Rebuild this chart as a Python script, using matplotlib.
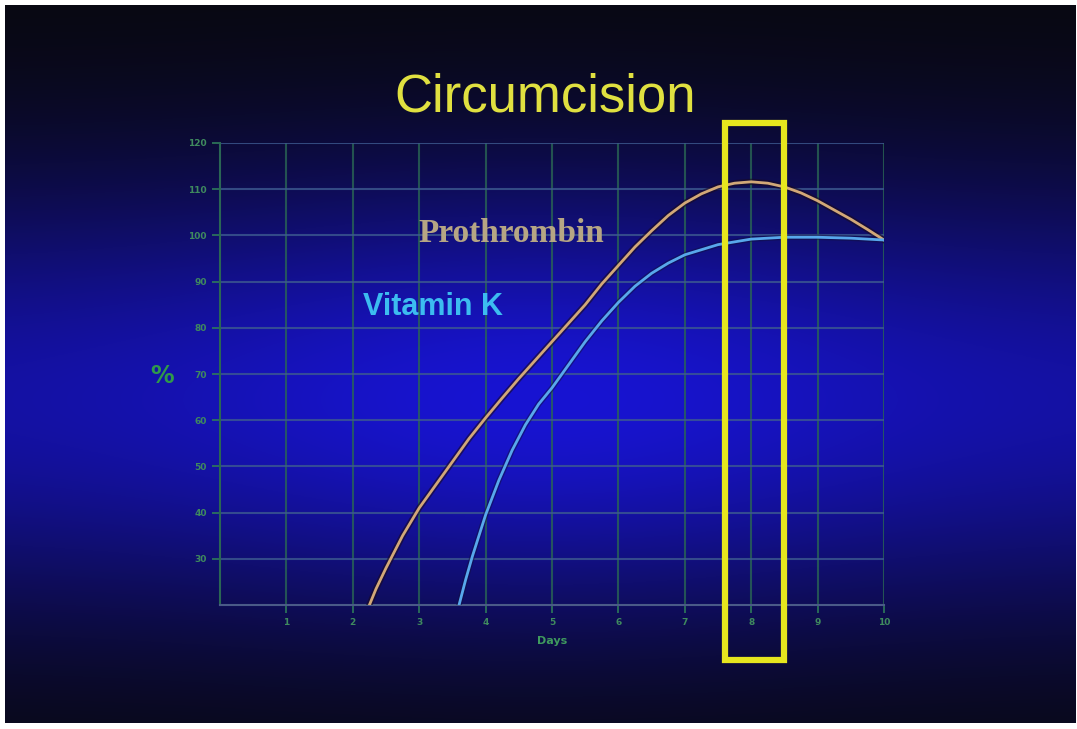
import numpy as np
import matplotlib
matplotlib.use("Agg")
import matplotlib.pyplot as plt
from matplotlib.patches import Rectangle

# data
days_ticks = [1, 2, 3, 4, 5, 6, 7, 8, 9, 10]
pct_ticks = [30, 40, 50, 60, 70, 80, 90, 100, 110, 120]

prothrombin_days = [2.25, 2.35, 2.5, 2.75, 3.0, 3.25, 3.5, 3.75, 4.0, 4.25, 4.5, 4.75, 5.0,
                    5.25, 5.5, 5.75, 6.0, 6.25, 6.5, 6.75, 7.0, 7.25, 7.5, 7.75, 8.0,
                    8.25, 8.5, 8.75, 9.0, 9.25, 9.5, 9.75, 10.0]
prothrombin_pct = [20, 23.5, 28, 35, 41, 46, 51, 56, 60.5, 64.8, 69, 73, 77,
                   81, 85, 89.5, 93.5, 97.5, 101, 104.3, 107, 109, 110.5, 111.3, 111.6,
                   111.3, 110.5, 109.2, 107.5, 105.5, 103.5, 101.3, 99]

vitk_days = [3.6, 3.7, 3.8, 3.9, 4.0, 4.2, 4.4, 4.6, 4.8, 5.0, 5.25, 5.5, 5.75, 6.0,
             6.25, 6.5, 6.75, 7.0, 7.5, 8.0, 8.5, 9.0, 9.5, 10.0]
vitk_pct = [20, 25.5, 30.5, 35, 39.5, 47, 53.5, 59, 63.5, 67, 72, 77, 81.5, 85.5,
            89, 91.8, 94, 95.8, 98, 99.2, 99.6, 99.6, 99.4, 99]

highlight_days = (7.6, 8.5)

W, H = 1077, 729
fig = plt.figure(figsize=(W / 100, H / 100), dpi=100, facecolor='white')

# slide background (dark blue gradient), inside a thin white border
bg = fig.add_axes([5 / W, 6 / H, 1 - 6 / W, 1 - 11 / H])
yy, xx = np.mgrid[0:1:400j, 0:1:600j]
v = np.exp(-((yy - 0.55) / 0.31) ** 2)
h = 0.74 + 0.26 * np.exp(-((xx - 0.5) / 0.33) ** 2)
t = (v * h)[..., None]
base = np.array([8, 8, 12]) / 255
blue = np.array([24, 20, 210]) / 255
img = np.clip(base + t * (blue - base), 0, 1)
bg.imshow(img, aspect='auto', extent=[0, 1, 0, 1], origin='upper')
bg.set_axis_off()

ax = fig.add_axes([220 / W, 1 - 605 / H, 664 / W, 462 / H])
ax.patch.set_alpha(0)

ax.plot(prothrombin_days, prothrombin_pct, color='#1a0a20', lw=4.5, alpha=0.6, zorder=3)
ax.plot(prothrombin_days, prothrombin_pct, color='#d2a878', lw=2.0, zorder=4)
ax.plot(vitk_days, vitk_pct, color='#101040', lw=4.0, alpha=0.5, zorder=3)
ax.plot(vitk_days, vitk_pct, color='#58a8ec', lw=2.0, zorder=4)

ax.set_xlim(0, 10)
ax.set_ylim(20, 120)
ax.set_xticks(days_ticks)
ax.set_yticks(pct_ticks)
ax.set_xticklabels([str(d) for d in days_ticks])
ax.set_yticklabels([str(p) for p in pct_ticks])
ax.tick_params(colors='#2e7a5a', labelcolor='#3f8a5e', labelsize=6.5, length=6, width=1.2)
for lab in ax.get_xticklabels() + ax.get_yticklabels():
    lab.set_fontweight('bold')

ax.grid(axis='x', color='#2a6654', lw=1.5, alpha=0.8, zorder=1)
ax.grid(axis='y', color='#3d5a90', lw=1.5, alpha=0.8, zorder=1)
for side in ['top', 'right']:
    ax.spines[side].set_visible(False)
ax.spines['left'].set_color('#2a6654')
ax.spines['left'].set_linewidth(1.5)
ax.spines['bottom'].set_color('#4a5a88')
ax.spines['bottom'].set_linewidth(1.5)

ax.set_xlabel('Days', color='#3f9a5e', fontsize=8, fontweight='bold', labelpad=6)

# highlight box around day 8
x0, x1 = highlight_days
ax.add_patch(Rectangle((x0, 8), x1 - x0, 116.3, fill=False, ec='#e6e61e',
                       lw=4.5, clip_on=False, zorder=6))

ax.text(4.38, 100.5, 'Prothrombin', color='#b6a684', fontsize=24, fontweight='bold',
        family='Liberation Serif', ha='center', va='center', zorder=5)
ax.text(3.21, 84.5, 'Vitamin K', color='#3cbcf0', fontsize=22, fontweight='bold',
        family='Liberation Sans', ha='center', va='center', zorder=5)

fig.text(162 / W, 1 - 376 / H, '%', color='#2f9a4a', fontsize=17, fontweight='bold',
         ha='center', va='center')
fig.text(545 / W, 1 - 98 / H, 'Circumcision', color='#e0e040', fontsize=38,
         family='Liberation Sans', ha='center', va='center')

fig.savefig('out.png', dpi=100, facecolor='white')
